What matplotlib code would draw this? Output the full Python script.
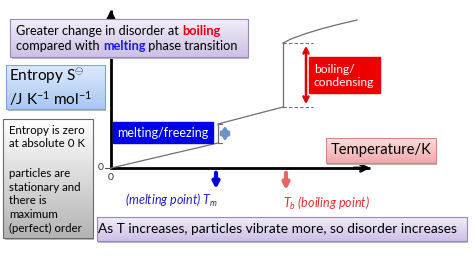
import numpy as np
import matplotlib
matplotlib.use('Agg')
import matplotlib.pyplot as plt
from matplotlib.patches import ArrowStyle

plt.rcParams['font.family'] = ['Lato', 'DejaVu Sans']
plt.rcParams['mathtext.fontset'] = 'custom'
plt.rcParams['mathtext.rm'] = 'Lato'
plt.rcParams['mathtext.it'] = 'Lato:italic'

# entropy curve (arbitrary units, T in "K", S in J/K/mol)
T_solid = [0, 107]
S_solid = [0, 25]
T_liquid = [107, 172]
S_liquid = [44, 61]
T_gas = [172, 180, 195, 210, 225, 246]
S_gas = [125, 129, 134.5, 139, 143, 148]
T_m = 107
T_b = 172

fig = plt.figure(figsize=(4.74, 2.66), dpi=100)
ax = fig.add_axes([0, 0, 1, 1])
ax.set_axis_off()
X0, Y0 = 111, 168  # pixel position of origin


def px(x, y):
    return x - X0, Y0 - y


def gbox(x0, y0, x1, y1, c_top, c_bot, edge, z=2):
    a, b = px(x0, y0)
    c, d = px(x1, y1)
    top = np.array(matplotlib.colors.to_rgb(c_top))
    bot = np.array(matplotlib.colors.to_rgb(c_bot))
    t = np.linspace(0, 1, 64)[:, None]
    grad = (top * (1 - t) + bot * t)[:, None, :]
    # shadow
    ax.add_patch(plt.Rectangle((a + 1.5, d - 1.5), c - a, b - d, color='#b8b8b8', zorder=z - 0.5, lw=0))
    ax.imshow(grad, extent=(a, c, d, b), aspect='auto', zorder=z)
    ax.add_patch(plt.Rectangle((a, d), c - a, b - d, fill=False, ec=edge, lw=0.8, zorder=z + 0.1))


def pieces(x, y, parts, size):
    fig.canvas.draw()
    r = fig.canvas.get_renderer()
    xx, yy = px(x, y)
    for s, col, w in parts:
        t = ax.text(xx, yy, s, color=col, fontsize=size, fontweight=w, va='center', ha='left', zorder=6)
        bb = t.get_window_extent(r)
        xx = ax.transData.inverted().transform((bb.x1, bb.y0))[0]


# axes with arrows (drawn under the boxes)
ax.plot([0, 0], [-1, 158], color='black', lw=2, zorder=1, solid_capstyle='butt')
ax.plot([-1, 259], [0, 0], color='black', lw=2, zorder=1, solid_capstyle='butt')
ax.annotate('', xy=(0, 161), xytext=(0, 140), arrowprops=dict(arrowstyle='->', lw=2, color='black', mutation_scale=12), zorder=1)
ax.annotate('', xy=(262, 0), xytext=(240, 0), arrowprops=dict(arrowstyle='->', lw=2, color='black', mutation_scale=12), zorder=1)
ax.plot([-6, 0], [0, 0], color='#555555', lw=0.8, zorder=1)
ax.text(-7, 0, '0', fontsize=7.5, ha='right', va='center', color='#333333')
ax.text(0, -10, '0', fontsize=7.5, ha='center', va='center', color='#333333')

# boxes
gbox(10, 19, 248, 57, '#f1eef8', '#cdbfe6', '#9a88b8')
gbox(6, 65, 105, 109, '#dde9fb', '#a9c8f2', '#7ea3d6')
gbox(3, 119, 93, 238, '#ffffff', '#b4b4b4', '#6a6a6a')
gbox(326, 138, 436, 163, '#fbdede', '#f0a9a9', '#cf8686')
gbox(97, 217, 467, 241, '#f1eef8', '#cdbfe6', '#9a88b8')

# entropy curve
lc = '#6e6e6e'
ax.plot(T_solid, S_solid, color=lc, lw=0.9, zorder=3)
ax.plot([T_m, T_m], [S_solid[-1], S_liquid[0]], color=lc, lw=0.9, zorder=3)
ax.plot(T_liquid, S_liquid, color=lc, lw=0.9, zorder=3)
ax.plot([T_b, T_b], [S_liquid[-1], S_gas[0]], color=lc, lw=0.9, zorder=3)
ax.plot(T_gas, S_gas, color=lc, lw=0.9, zorder=3)

# dashed guides
ax.plot([T_b, T_b + 30], [S_gas[0]] * 2, color=lc, lw=0.8, ls=(0, (3, 2)), zorder=3)
ax.plot([T_b, T_b + 30], [S_liquid[-1]] * 2, color=lc, lw=0.8, ls=(0, (3, 2)), zorder=3)
ax.plot([T_m, T_m + 4], [S_solid[-1]] * 2, color=lc, lw=0.8, zorder=3)
ax.plot([T_m, T_m + 4], [S_liquid[0]] * 2, color=lc, lw=0.8, zorder=3)

# double arrows
ax.annotate('', xy=(T_b + 23, S_gas[0]), xytext=(T_b + 23, S_liquid[-1]),
            arrowprops=dict(arrowstyle='<->', lw=1.8, color='#e00000', mutation_scale=9), zorder=4)
ax.annotate('', xy=(T_m + 7, S_liquid[0] + 1), xytext=(T_m + 7, S_solid[-1] - 1),
            arrowprops=dict(arrowstyle=ArrowStyle('<|-|>', head_length=0.45, head_width=0.28), lw=2.2,
                            color='#6c93c4', mutation_scale=10), zorder=4)

# down arrows under T axis
ax.annotate('', xy=(T_m - 2, -24), xytext=(T_m - 2, -2),
            arrowprops=dict(arrowstyle='-|>', lw=3, color='#0000dd', mutation_scale=9), zorder=4)
ax.annotate('', xy=(T_b + 3, -25), xytext=(T_b + 3, -2),
            arrowprops=dict(arrowstyle='-|>', lw=3, color='#e46464', mutation_scale=9), zorder=4)

# labelled boxes
a, b = px(113, 122)
ax.add_patch(plt.Rectangle((a, b - 21), 100, 21, color='#0000e6', zorder=4))
ax.text(*px(163, 133), 'melting/freezing', color='white', fontsize=9, ha='center', va='center', zorder=6)
a, b = px(309, 57)
ax.add_patch(plt.Rectangle((a, b - 36), 71, 36, color='#ee0000', zorder=4))
ax.text(*px(314, 76), 'boiling/\ncondensing', color='white', fontsize=8.7, ha='left', va='center',
        linespacing=1.3, zorder=6)

# texts
ax.text(*px(218, 200), '(melting point) $T_m$', color='#2222cc', fontsize=9, style='italic',
        ha='right', va='center', zorder=6)
ax.text(*px(283, 203), '$T_b$ (boiling point)', color='#e03030', fontsize=9, style='italic',
        ha='left', va='center', zorder=6)
ax.text(*px(381, 150), 'Temperature/K', color='black', fontsize=10.6, ha='center', va='center', zorder=6)
ax.text(*px(277, 229), 'As T increases, particles vibrate more, so disorder increases', color='black',
        fontsize=9.9, ha='center', va='center', zorder=6)
ax.text(*px(9, 87), 'Entropy S$^{\\ominus}$\n/J K$^{-1}$ mol$^{-1}$', color='black', fontsize=11,
        ha='left', va='center', linespacing=1.2, zorder=6)
ax.text(*px(9, 137), 'Entropy is zero\nat absolute 0 K', color='black', fontsize=8.3,
        ha='left', va='center', linespacing=1.3, zorder=6)
ax.text(*px(9, 201), 'particles are\nstationary and\nthere is\nmaximum\n(perfect) order', color='black',
        fontsize=8.3, ha='left', va='center', linespacing=1.3, zorder=6)

ax.set_xlim(-X0, 474 - X0)
ax.set_ylim(Y0 - 266, Y0)

pieces(16, 31, [('Greater change in disorder at ', 'black', 'normal'), ('boiling', '#e00000', 'bold')], 9.2)
pieces(16, 46, [('compared with ', 'black', 'normal'), ('melting', '#1a1ae6', 'bold'),
                (' phase transition', 'black', 'normal')], 9.2)

fig.savefig('out.png', dpi=100)
